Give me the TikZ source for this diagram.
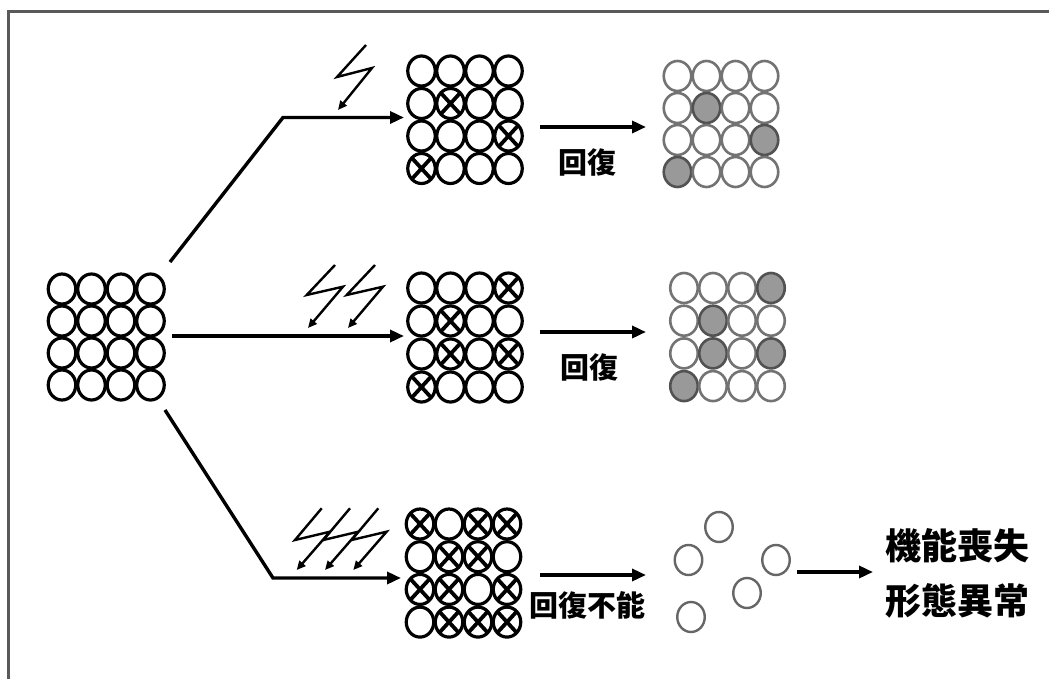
\documentclass[tikz,border=0pt]{standalone}
\usepackage{fontspec}
\newfontfamily\cjk{Noto Sans CJK JP}
\usetikzlibrary{arrows.meta,shapes.geometric}
\newcommand\cellgrid[6]{%
  \foreach \s [count=\i from 0] in {#6} {%
    \pgfmathtruncatemacro\row{\i/4}%
    \pgfmathtruncatemacro\col{mod(\i,4)}%
    \node[cell-\s] (#1-\row-\col) at ({#2+\col*#4},{#3+\row*#5}) {};
  }}
\begin{document}
\begin{tikzpicture}[x=1pt,y=-1pt,
  cellbase/.style={ellipse,minimum width=27.5pt,minimum height=30pt,inner sep=0pt},
  cell-o/.style={cellbase,draw=black,line width=3.2pt,fill=white},
  cell-x/.style={cellbase,draw=black,line width=3.2pt,fill=white,
     path picture={\draw[line width=3.8pt]
       (path picture bounding box.north west) -- (path picture bounding box.south east)
       (path picture bounding box.north east) -- (path picture bounding box.south west);}},
  cell-g/.style={cellbase,draw=black!55,line width=2.6pt,fill=white},
  cell-f/.style={cellbase,draw=black!68,line width=2.6pt,fill=black!40},
  loose/.style={cellbase,draw=black!60,line width=2.4pt,fill=white},
  main/.style={line width=3.4pt,-{Triangle[length=14pt,width=12pt]}},
  bolt/.style={line width=2.4pt,line join=miter,-{Triangle[length=9pt,width=8pt]}},
  lbl/.style={font=\cjk\bfseries\fontsize{29}{31}\selectfont,inner sep=0pt},
  big/.style={font=\cjk\bfseries\fontsize{36}{40}\selectfont,inner sep=0pt}
]
\useasboundingbox (0,0) rectangle (1049,679);
\fill[white] (0,0) rectangle (1049,679);
% frame
\draw[line width=2.2pt,draw=black!65] (8.5,679) -- (8.5,11.5) -- (1049,11.5);

% grids
\cellgrid{g0}{62}{289}{29.5}{32}{o,o,o,o, o,o,o,o, o,o,o,o, o,o,o,o}
\cellgrid{g1}{421.5}{71}{29}{32.5}{o,o,o,o, o,x,o,o, o,o,o,x, x,o,o,o}
\cellgrid{g2}{421.5}{288}{29}{33}{o,o,o,x, o,x,o,o, o,x,o,x, x,o,o,o}
\cellgrid{g3}{420}{524}{29}{32.7}{x,o,x,x, o,x,x,o, x,x,o,x, o,x,x,x}
\cellgrid{r1}{677.5}{76}{29}{32}{g,g,g,g, g,f,g,g, g,g,g,f, f,g,g,g}
\cellgrid{r2}{684}{288}{29}{32.7}{g,g,g,f, g,f,g,g, g,f,g,f, f,g,g,g}

% scattered cells
\node[loose] (s1) at (719,527) {};
\node[loose] (s2) at (688.5,560) {};
\node[loose] (s3) at (776,560) {};
\node[loose] (s4) at (747,593) {};
\node[loose] (s5) at (691,617) {};

% main arrows
\coordinate (a1s) at (170,262);
\coordinate (a1k) at (283,117.5);
\coordinate (a1e) at (404,117.5);
\coordinate (a2s) at (172,336);
\coordinate (a2e) at (404,336);
\coordinate (a3s) at (165,410);
\coordinate (a3k) at (273,578);
\coordinate (a3e) at (401,578);
\draw[main] (a1s) -- (a1k) -- (a1e);
\draw[main] (a2s) -- (a2e);
\draw[main] (a3s) -- (a3k) -- (a3e);

% right arrows
\coordinate (b1s) at (540,127); \coordinate (b1e) at (646,127);
\coordinate (b2s) at (540,332); \coordinate (b2e) at (646,332);
\coordinate (b3s) at (540,575); \coordinate (b3e) at (646,575);
\coordinate (b4s) at (797,572); \coordinate (b4e) at (873,572);
\draw[main] (b1s) -- (b1e);
\draw[main] (b2s) -- (b2e);
\draw[main] (b3s) -- (b3e);
\draw[main] (b4s) -- (b4e);

% bolts
\coordinate (t1a) at (366,45); \coordinate (t1b) at (337,77);
\coordinate (t1c) at (372,68); \coordinate (t1d) at (338,110);
\draw[bolt] (t1a) -- (t1b) -- (t1c) -- (t1d);
\foreach \k in {0,1} {
  \coordinate (m\k a) at (335+40*\k,265);
  \coordinate (m\k b) at (306.7+40*\k,295);
  \coordinate (m\k c) at (343+40*\k,286.7);
  \coordinate (m\k d) at (308+40*\k,328);
  \draw[bolt] (m\k a) -- (m\k b) -- (m\k c) -- (m\k d);
}
\foreach \k in {0,1,2} {
  \coordinate (n\k a) at (321.7+28.3*\k,508.3);
  \coordinate (n\k b) at (295+28.3*\k,540);
  \coordinate (n\k c) at (330+28.3*\k,531.7);
  \coordinate (n\k d) at (296.7+28.3*\k,570);
  \draw[bolt] (n\k a) -- (n\k b) -- (n\k c) -- (n\k d);
}

% labels
\node[lbl] (l1) at (587,162) {回復};
\node[lbl] (l2) at (589,367) {回復};
\node[lbl] (l3) at (587,605) {回復不能};
\node[big] (o1) at (957,546) {機能喪失};
\node[big] (o2) at (957,601) {形態異常};
\end{tikzpicture}
\end{document}
